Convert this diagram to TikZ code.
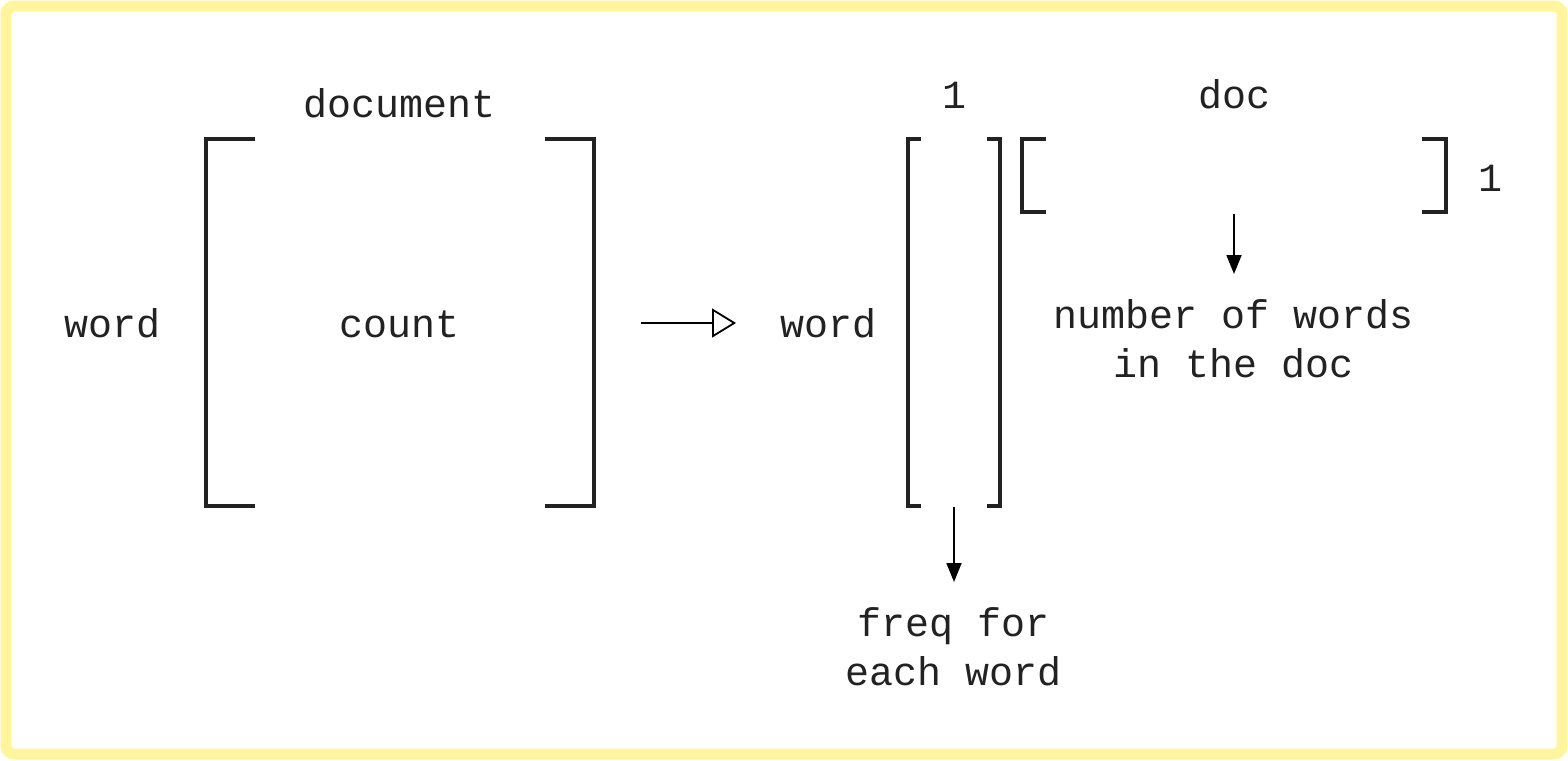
\documentclass[tikz,border=0pt]{standalone}
\usepackage{fontspec}
\setmonofont{Liberation Mono}
\usetikzlibrary{arrows.meta}
\usepackage{xcolor}
\definecolor{FrameYellow}{HTML}{FFF59D}
\definecolor{InkGray}{HTML}{222222}

\begin{document}
\begin{tikzpicture}[x=0.5pt, y=-0.5pt,
  txt/.style={font=\ttfamily\fontsize{20}{24.5}\selectfont, text=InkGray, align=center,
              inner sep=0pt, anchor=base},
  bracket/.style={draw=InkGray, line width=1.8pt},
  arrow/.style={-{Triangle[length=9.5pt, width=7.5pt]}, line width=0.9pt, black},
  hollowarrow/.style={-{Triangle[open, length=12pt, width=14.5pt]}, line width=0.9pt, black}
]
  \useasboundingbox (0,0) rectangle (1568,760);
  \draw[FrameYellow, line width=5.5pt, rounded corners=4pt] (6,6) rectangle (1562,754);

  % word x document count matrix
  \node[txt] (document) at (400,117) {document};
  \node[txt] (word1) at (113,337) {word};
  \node[txt] (count) at (400,337) {count};
  \draw[bracket] (255,139) -- (206,139) -- (206,506) -- (255,506);
  \draw[bracket] (545,139) -- (594,139) -- (594,506) -- (545,506);

  \coordinate (mat-out) at (641,323);
  \coordinate (vec-in) at (736,323);
  \draw[hollowarrow] (mat-out) -- (vec-in);

  % word frequency column
  \node[txt] (word2) at (828,337) {word};
  \node[txt] (one-col) at (954,108) {1};
  \draw[bracket] (921,139) -- (908,139) -- (908,506) -- (921,506);
  \draw[bracket] (987,139) -- (1000,139) -- (1000,506) -- (987,506);
  \coordinate (col-bot) at (954,507);
  \coordinate (freq-top) at (954,582);
  \draw[arrow] (col-bot) -- (freq-top);
  \node[txt] (freq) at (954,685) {freq for\\each word};

  % doc length row
  \node[txt] (doc) at (1234,108) {doc};
  \node[txt] (one-row) at (1490,191) {1};
  \draw[bracket] (1046,139) -- (1022,139) -- (1022,212) -- (1046,212);
  \draw[bracket] (1422,139) -- (1446,139) -- (1446,212) -- (1422,212);
  \coordinate (row-bot) at (1234,214);
  \coordinate (len-top) at (1234,274);
  \draw[arrow] (row-bot) -- (len-top);
  \node[txt] (nwords) at (1234,377) {number of words\\in the doc};
\end{tikzpicture}
\end{document}
